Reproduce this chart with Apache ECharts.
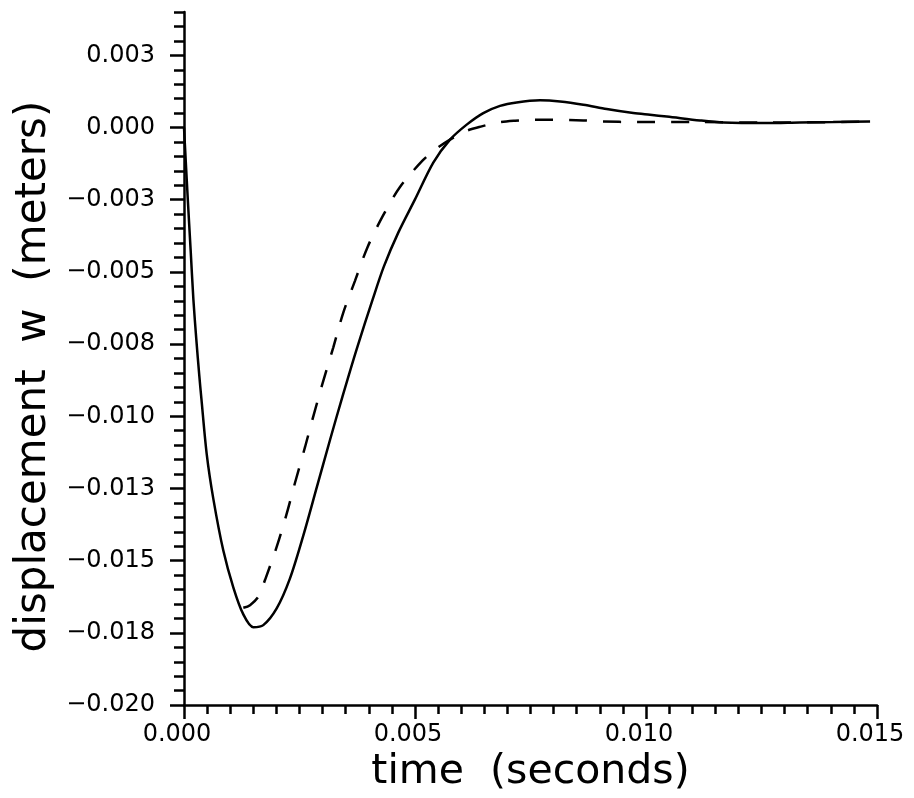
<!DOCTYPE html>
<html><head><meta charset="utf-8">
<script src="https://cdn.jsdelivr.net/npm/echarts@6/dist/echarts.min.js"></script>
<style>html,body{margin:0;padding:0;background:#fff}#c{width:914px;height:798px}</style>
</head><body><div id="c"></div>
<script>
// Tick values and labels
const xTickValues = [0, 0.005, 0.010, 0.015];
const xTickLabels = ['0.000', '0.005', '0.010', '0.015'];
const yTickValues = [-0.02, -0.0175, -0.015, -0.0125, -0.01, -0.0075, -0.005, -0.0025, 0, 0.0025];
const yTickLabels = ['\u22120.020', '\u22120.018', '\u22120.015', '\u22120.013', '\u22120.010', '\u22120.008', '\u22120.005', '\u22120.003', '0.000', '0.003'];

// Solid curve (time in s, displacement in m)
const solidTime = [0, 0.000082, 0.000143, 0.000203, 0.000266, 0.000331, 0.000377, 0.000491, 0.000634, 0.000851,
  0.001067, 0.001284, 0.00150, 0.001716, 0.002006, 0.002294, 0.002582, 0.002872, 0.003160, 0.003433,
  0.003738, 0.004084, 0.004329, 0.004638, 0.005000, 0.005396, 0.005758, 0.006119, 0.006478, 0.006840,
  0.007200, 0.007706, 0.008140, 0.008643, 0.009149, 0.009725, 0.010087, 0.010450, 0.011170, 0.011670,
  0.012610, 0.013330, 0.014050, 0.014850];
const solidDisp = [0, -0.00249, -0.00422, -0.00595, -0.00733, -0.00859, -0.00940, -0.01130, -0.01285, -0.01465,
  -0.01592, -0.01686, -0.01730, -0.01723, -0.01665, -0.01561, -0.01413, -0.01247, -0.01082, -0.00930,
  -0.00767, -0.00595, -0.00480, -0.00364, -0.00249, -0.001215, -0.00042, 0.00010, 0.00050, 0.00075,
  0.00087, 0.00094, 0.00090, 0.00079, 0.00064, 0.00050, 0.00044, 0.00038, 0.000245, 0.000176,
  0.000155, 0.000176, 0.00019, 0.00021];

// Dashed curve
const dashTime = [0.001284, 0.001429, 0.001608, 0.001753, 0.002006, 0.002223, 0.002403, 0.002619, 0.002799, 0.003015,
  0.003232, 0.003448, 0.003701, 0.003968, 0.004301, 0.004675, 0.005167, 0.005465, 0.005758, 0.006082,
  0.006444, 0.006803, 0.007165, 0.007561, 0.007922, 0.008643, 0.009041, 0.009799, 0.011000, 0.012500, 0.014850];
const dashDisp = [-0.01663, -0.01654, -0.01625, -0.01567, -0.01452, -0.01337, -0.01230, -0.01107, -0.01000, -0.00877,
  -0.00761, -0.00641, -0.00531, -0.00416, -0.00307, -0.00206, -0.00114, -0.00073, -0.00042, -0.000135,
  0.00004, 0.000176, 0.000235, 0.00027, 0.00027, 0.000245, 0.00021, 0.00019, 0.00019, 0.00017, 0.00020];

const FONT = 'DejaVu Sans';
function lookup(values, labels, v) {
  for (let i = 0; i < values.length; i++) if (Math.abs(values[i] - v) < 1e-9) return labels[i];
  return '';
}
const yMinor = [];
for (let k = 0; k <= 48; k++) yMinor.push(+(-0.02 + k * 0.0005).toFixed(4));

const chart = echarts.init(document.getElementById('c'), null, { renderer: 'canvas' });
chart.setOption({
  animation: false,
  backgroundColor: '#fff',
  grid: { left: 184, right: 37, top: 12, bottom: 91, containLabel: false },
  xAxis: {
    type: 'value', min: 0, max: 0.015, interval: 0.005,
    name: 'time  (seconds)', nameLocation: 'middle', nameGap: 40,
    nameTextStyle: { fontFamily: FONT, fontSize: 41, color: '#000' },
    axisLine: { onZero: false, lineStyle: { color: '#000', width: 2.5 } },
    axisTick: { show: true, inside: false, length: 14, lineStyle: { color: '#000', width: 2.5 } },
    minorTick: { show: true, splitNumber: 10, length: 9, lineStyle: { color: '#000', width: 2.5 } },
    axisLabel: { margin: 18, fontFamily: FONT, fontSize: 24, color: '#000', padding: [0, 14, 0, 0],
      showMinLabel: true, showMaxLabel: true, formatter: v => lookup(xTickValues, xTickLabels, v) },
    splitLine: { show: false }, minorSplitLine: { show: false }
  },
  yAxis: [{
    type: 'value', min: -0.02, max: 0.004, interval: 0.0025, position: 'left',
    name: 'displacement  w  (meters)', nameLocation: 'middle', nameGap: 121, nameRotate: 90,
    nameTextStyle: { fontFamily: FONT, fontSize: 42, color: '#000', padding: [0, 36, 0, 0] },
    axisLine: { onZero: false, lineStyle: { color: '#000', width: 2.5 } },
    axisTick: { show: true, inside: false, length: 14, customValues: yTickValues, lineStyle: { color: '#000', width: 2.5 } },
    axisLabel: { margin: 29, fontFamily: FONT, fontSize: 24, color: '#000', customValues: yTickValues,
      formatter: v => lookup(yTickValues, yTickLabels, v) },
    splitLine: { show: false }
  }, {
    type: 'value', min: -0.02, max: 0.004, interval: 0.0005, position: 'left', offset: 0,
    axisLine: { show: false, onZero: false },
    axisTick: { show: true, inside: false, length: 10, customValues: yMinor, lineStyle: { color: '#000', width: 2.5 } },
    axisLabel: { show: false },
    splitLine: { show: false }
  }],
  series: [{
    type: 'line', yAxisIndex: 0, showSymbol: false, smooth: 0.3, silent: true,
    data: solidTime.map((t, i) => [t, solidDisp[i]]),
    lineStyle: { color: '#000', width: 2.5, type: 'solid' }
  }, {
    type: 'line', yAxisIndex: 0, showSymbol: false, smooth: 0.3, silent: true,
    data: dashTime.map((t, i) => [t, dashDisp[i]]),
    lineStyle: { color: '#000', width: 2.5, type: [18, 16] }
  }]
});
</script>
</body></html>
